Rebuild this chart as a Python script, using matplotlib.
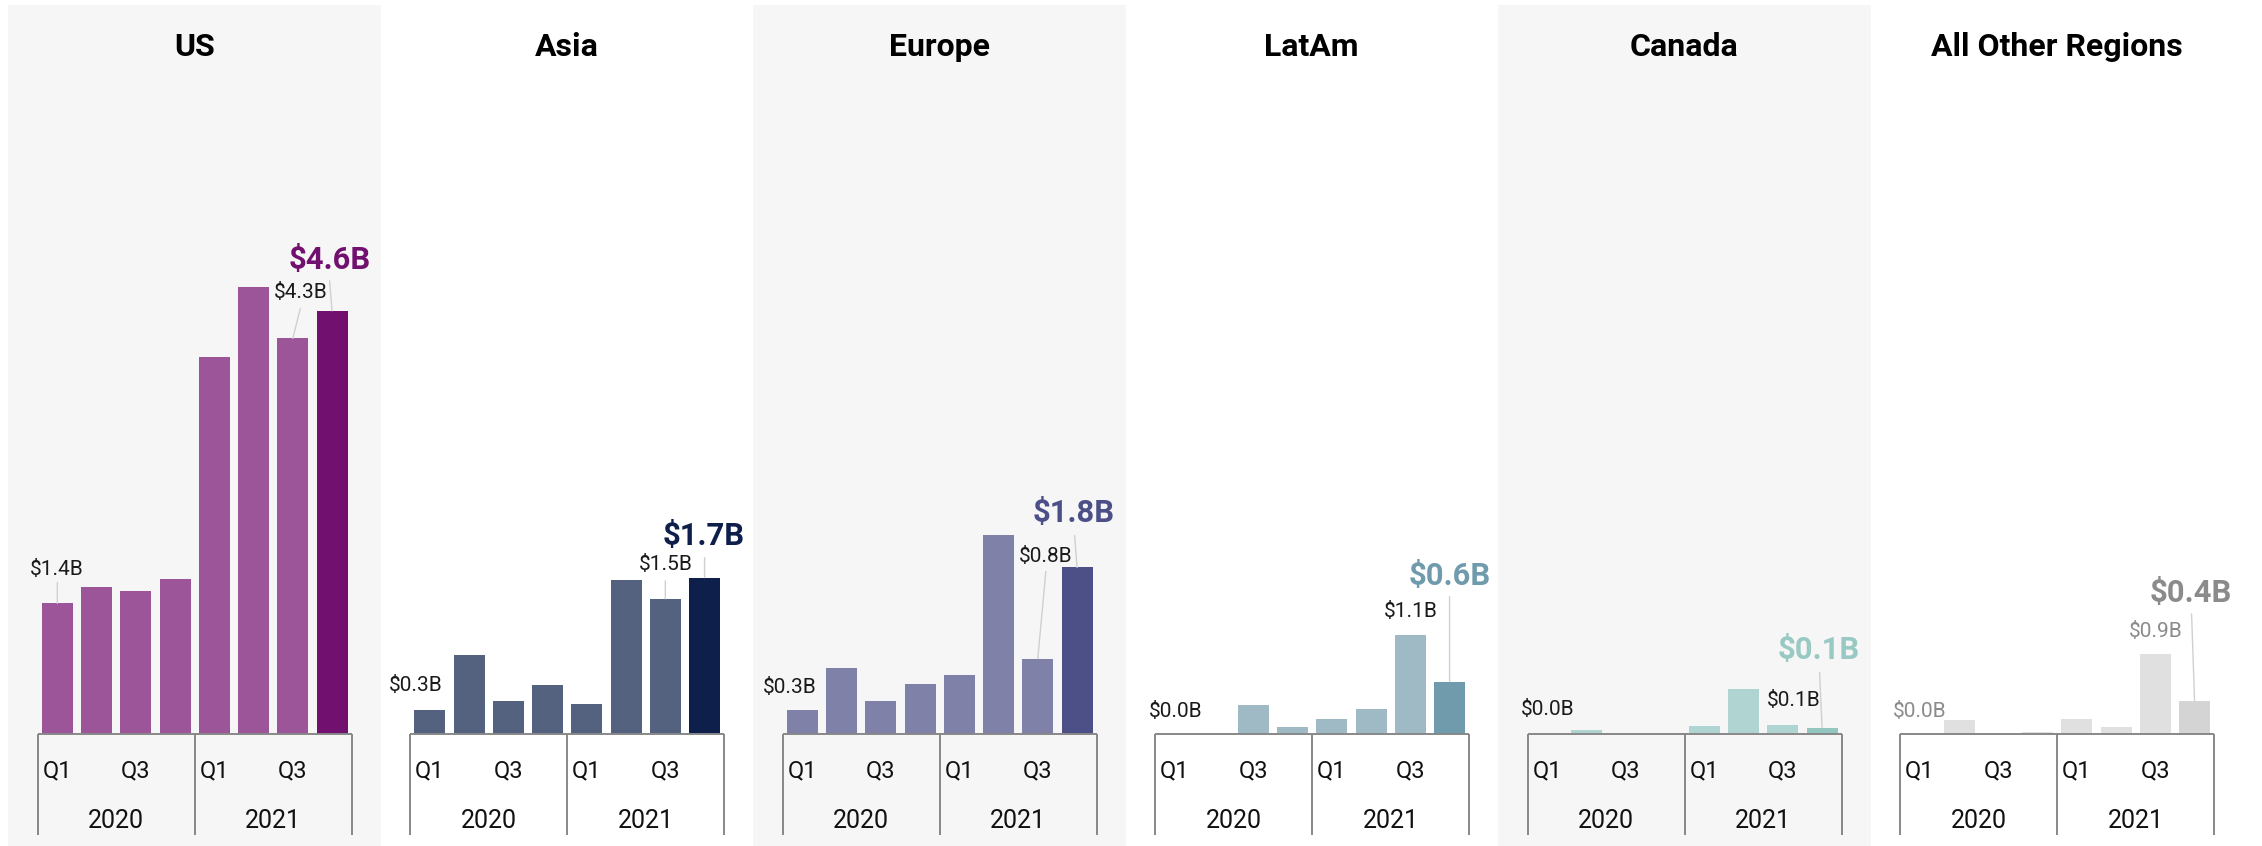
import matplotlib
matplotlib.use("Agg")
import matplotlib.pyplot as plt
from matplotlib.patches import Rectangle
from matplotlib.transforms import blended_transform_factory

plt.rcParams['font.family'] = ['Roboto', 'DejaVu Sans']

# ---------------- data ----------------
regions = ["US", "Asia", "Europe", "LatAm", "Canada", "All Other Regions"]
quarters = ["Q1", "Q2", "Q3", "Q4", "Q1", "Q2", "Q3", "Q4"]
years = ["2020", "2021"]

us_vals     = [1.42, 1.60, 1.55, 1.68, 4.10, 4.86, 4.30, 4.60]
asia_vals   = [0.26, 0.86, 0.36, 0.53, 0.33, 1.67, 1.47, 1.70]
europe_vals = [0.26, 0.72, 0.36, 0.54, 0.64, 2.16, 0.82, 1.81]
latam_vals  = [0.00, 0.01, 0.31, 0.08, 0.16, 0.27, 1.08, 0.57]
canada_vals = [0.00, 0.04, 0.00, 0.00, 0.09, 0.49, 0.10, 0.07]
other_vals  = [0.00, 0.15, 0.00, 0.02, 0.16, 0.08, 0.87, 0.36]

series = [us_vals, asia_vals, europe_vals, latam_vals, canada_vals, other_vals]

# ---------------- styles ----------------
bar_colors = ["#9b5598", "#54617f", "#8081a8", "#9fb9c5", "#b0d4d1", "#e1e0e1"]
hi_colors  = ["#721070", "#0f1f4b", "#4c5087", "#6f9bac", "#94c6c0", "#d5d4d5"]
big_label_colors = ["#721070", "#0f1f4b", "#4c5087", "#6f9bac", "#98c9c3", "#8b8b8b"]
small_label_colors = ["#1a1a1a"] * 5 + ["#8b8b8b"]

# label placement: (index, dx px, dy px of text centre above bar top, leader start or None)
label_specs = [
    [(0, -0.5, 36, (0, 21)), (6, 7.5, 48, (7.5, 30)), (7, -2.5, 53, (-2.5, 30))],
    [(0, -14, 26, None), (6, 0, 36, (0, 18)), (7, -1, 44, (0, 20))],
    [(0, -13, 24.5, None), (6, 8, 104, (8, 87)), (7, -3, 56, (-2.5, 32))],
    [(0, 1, 24, None), (6, 0, 25, None), (7, 0, 108, (0, 85))],
    [(0, 0, 26, None), (6, 11, 26, None), (7, -3, 80, (-2.5, 55))],
    [(0, 0, 24, None), (6, 0, 24, None), (7, -3.5, 110, (-3, 87))],
]

W, H, DPI = 2262, 846, 100
PANEL_X0, PANEL_W, PANEL_TOP = 8, 372.5, 5
AX_PAD, AX_W = 29.7, 314
BASE_Y = 734          # baseline, px from top
PX_PER_B = 92
YMAX = 6.5
AX_H = YMAX * PX_PER_B

SMALL_FS, BIG_FS, TITLE_FS, Q_FS, YEAR_FS = 15, 22.3, 23, 17, 18
CAP = 0.711 * DPI / 72  # cap height px per pt

fig = plt.figure(figsize=(W / DPI, H / DPI), dpi=DPI)
fig.patch.set_facecolor("white")

for i, (region, vals) in enumerate(zip(regions, series)):
    px = PANEL_X0 + i * PANEL_W
    if i % 2 == 0:
        fig.add_artist(Rectangle((px / W, 0), PANEL_W / W, (H - PANEL_TOP) / H,
                                 transform=fig.transFigure, facecolor="#f6f6f6",
                                 edgecolor="none", zorder=0))
    fig.text((px + PANEL_W / 2) / W, 1 - 56 / H, region, ha="center", va="baseline",
             fontsize=TITLE_FS, fontweight="bold", color="black")

    ax = fig.add_axes([(px + AX_PAD) / W, (H - BASE_Y) / H, AX_W / W, AX_H / H])
    ax.set_facecolor("none")
    xs = list(range(len(vals)))
    cols = [bar_colors[i]] * (len(vals) - 1) + [hi_colors[i]]
    ax.bar(xs, vals, width=0.79, color=cols, zorder=2)
    ax.set_xlim(-0.5, len(vals) - 0.5)
    ax.set_ylim(0, YMAX)
    ax.axis("off")

    # baseline and group separators
    ax.plot([-0.5, len(vals) - 0.5], [0, 0], color="#888888", lw=1.4, clip_on=False,
            solid_capstyle="butt", zorder=3)
    trans = blended_transform_factory(ax.transData, ax.transAxes)
    sep = 101 / AX_H
    for xsep in [-0.5, 3.5, 7.5]:
        ax.plot([xsep, xsep], [0, -sep], transform=trans, color="#888888", lw=1.4,
                clip_on=False, solid_capstyle="butt")

    # quarter labels (every other)
    for j in range(0, len(vals), 2):
        ax.annotate(quarters[j], xy=(j, 0), xytext=(0, -43), textcoords="offset pixels",
                    ha="center", va="baseline", fontsize=Q_FS, color="#111111")
    for k, yr in enumerate(years):
        ax.annotate(yr, xy=(k * 4 + 1.5, 0), xytext=(0, -94), textcoords="offset pixels",
                    ha="center", va="baseline", fontsize=YEAR_FS, color="#111111")

    # value labels
    for (idx, dx, dy, leader) in label_specs[i]:
        v = vals[idx]
        big = idx == len(vals) - 1
        fs = BIG_FS if big else SMALL_FS
        col = big_label_colors[i] if big else small_label_colors[i]
        ax.annotate(f"${v:.1f}B", xy=(idx, v), xytext=(dx, dy - fs * CAP / 2),
                    textcoords="offset pixels", ha="center", va="baseline",
                    fontsize=fs, fontweight="bold" if big else "normal", color=col,
                    annotation_clip=False)
        if leader is not None:
            ax.annotate("", xy=(idx, v), xytext=leader, textcoords="offset pixels",
                        arrowprops=dict(arrowstyle="-", color="#d0d0d0", lw=1.0,
                                        shrinkA=0, shrinkB=0))

fig.savefig("out.png", dpi=DPI, facecolor="white")
